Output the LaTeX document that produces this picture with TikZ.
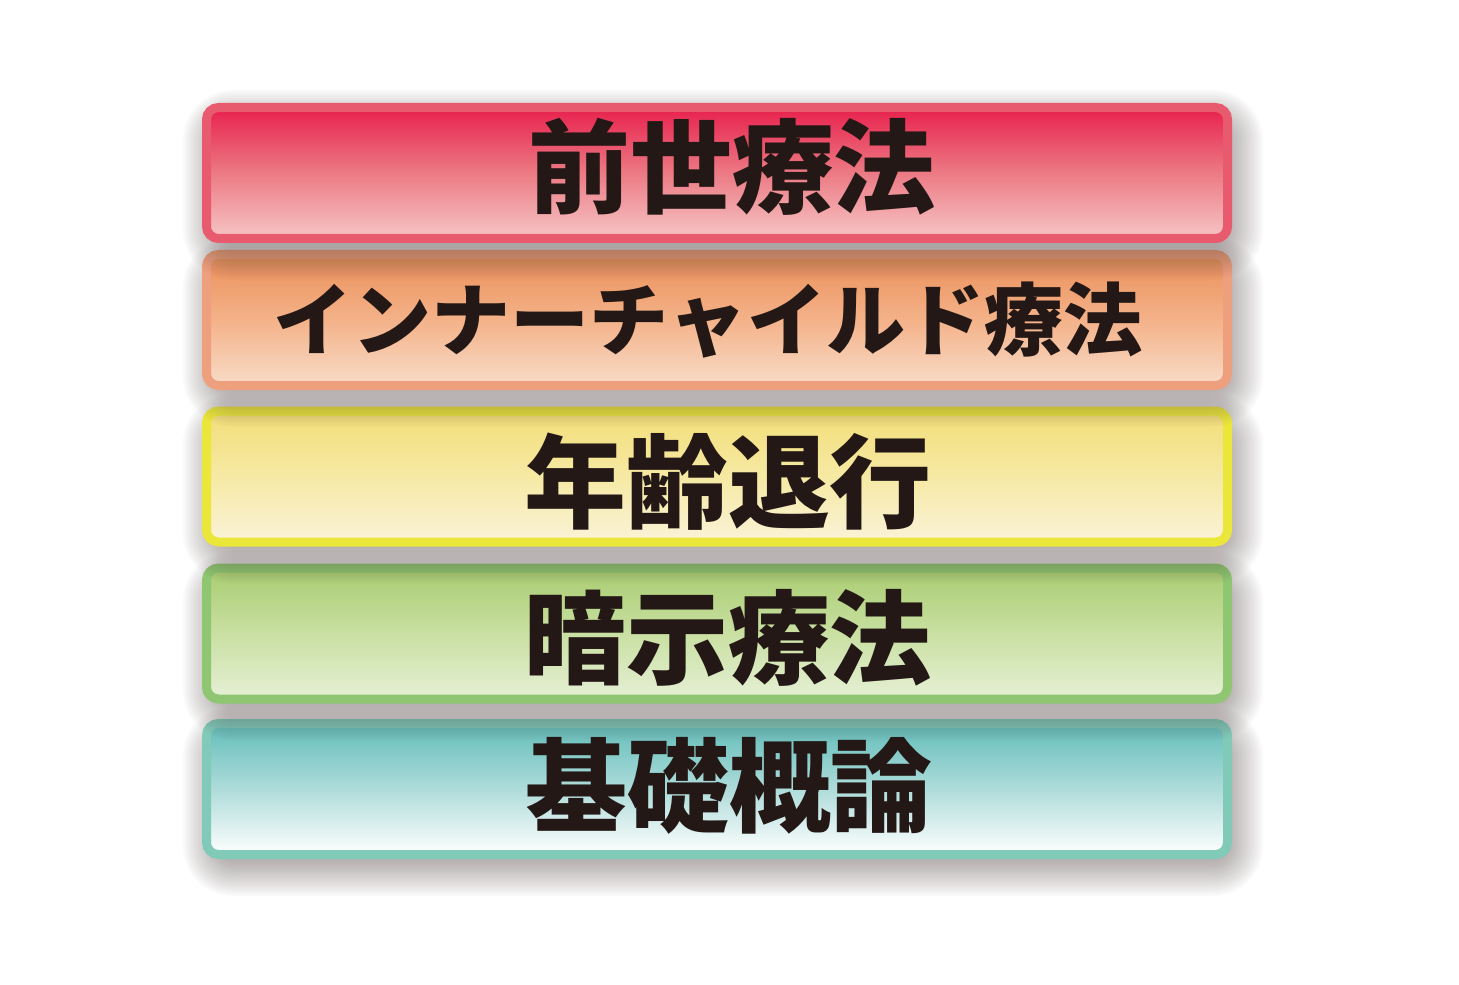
\documentclass[tikz,border=0pt]{standalone}
\usepackage{fontspec}
\newfontfamily\jpfont{Noto Sans CJK JP}

\definecolor{ink}{HTML}{231815}
\definecolor{redline}{HTML}{E85B6E}
\definecolor{redtop}{HTML}{E8214D}
\definecolor{redmid}{HTML}{EC7A84}
\definecolor{redbot}{HTML}{F6C6C6}
\definecolor{orangeline}{HTML}{EEA07E}
\definecolor{orangetop}{HTML}{EB8F58}
\definecolor{orangemid}{HTML}{F4B289}
\definecolor{orangebot}{HTML}{F8DCC8}
\definecolor{yellowline}{HTML}{EBE73A}
\definecolor{yellowtop}{HTML}{F2DE78}
\definecolor{yellowmid}{HTML}{F6E9A4}
\definecolor{yellowbot}{HTML}{FAF3D8}
\definecolor{greenline}{HTML}{8EC672}
\definecolor{greentop}{HTML}{A8CC70}
\definecolor{greenmid}{HTML}{C9E0A2}
\definecolor{greenbot}{HTML}{E6F0D6}
\definecolor{tealline}{HTML}{82CAB8}
\definecolor{tealtop}{HTML}{62BDBA}
\definecolor{tealmid}{HTML}{AEDCDA}
\definecolor{tealbot}{HTML}{FFFFFF}
\definecolor{shadowgrey}{HTML}{4A3A3A}

\begin{document}
\begin{tikzpicture}
  [bar/.style={draw=#1line,line width=0.9mm,rounded corners=1.2mm,
     minimum width=102.1mm,minimum height=13.1mm,inner sep=0pt,
     top color=#1top,bottom color=#1bot,middle color=#1mid},
   haze/.style={fill=shadowgrey,opacity=0.025,rounded corners=#1mm},
   big/.style={text=ink,inner sep=0pt,font=\jpfont\bfseries\fontsize{29}{29}\selectfont},
   small/.style={text=ink,inner sep=0pt,font=\jpfont\bfseries\fontsize{22.5}{22.5}\selectfont}]
  \useasboundingbox[fill=white] (0,0) rectangle (14.59,9.84);
  % bars with their soft shadows, drawn from the bottom up
  \foreach \name/\y/\c in {basics/1.95/teal,hypno/3.505/green,regress/5.075/yellow,
      inner/6.64/orange,pastlife/8.11/red} {
    \foreach \d [evaluate=\d as \r using 1+\d*0.2] in {0,...,20}
      \fill[haze=\r] (2.23-\d*0.02,\y-0.67-\d*0.02) rectangle (12.23+\d*0.02,\y+0.43+\d*0.02);
    \node[bar=\c] (\name) at (7.17,\y) {};
  }
  % labels
  \node[big] (tpastlife) at (7.32,8.17) {前世療法};
  \node[small] (tinner) at (7.08,6.64) {インナーチャイルド療法};
  \node[big] (tregress) at (7.28,5.02) {年齢退行};
  \node[big] (thypno) at (7.28,3.46) {暗示療法};
  \node[big] (tbasics) at (7.29,1.98) {基礎概論};
\end{tikzpicture}
\end{document}
